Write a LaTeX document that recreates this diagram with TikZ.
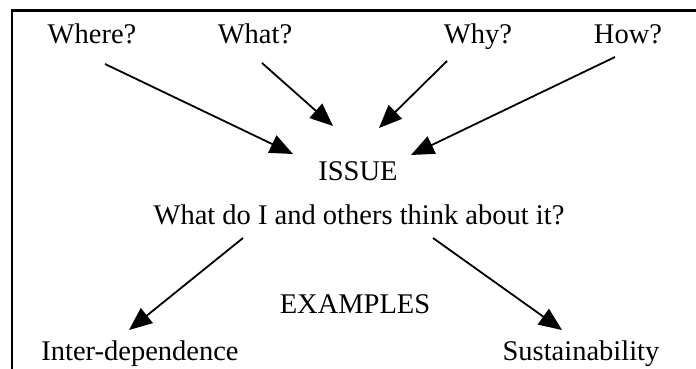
\documentclass[tikz,border=0pt]{standalone}
\usepackage{fontspec}
\setmainfont{Liberation Serif}
\usetikzlibrary{arrows.meta}
\begin{document}
\begin{tikzpicture}[x=1pt,y=-1pt,
  lbl/.style={anchor=base,inner sep=0pt,font=\fontsize{28.5}{34}\selectfont},
  arr/.style={line width=1.8pt,-{Triangle[length=23pt,width=19pt]}},
  frame/.style={line width=3pt}]
\useasboundingbox (0,0) rectangle (696,369);
% open frame: top edge and left edge
\draw[frame] (10.5,10.5) -- (696,10.5);
\draw[frame,line width=2.5pt] (12,10) -- (12,369);
% labels
\node[lbl] (where) at (92,44) {Where?};
\node[lbl] (what) at (255,44) {What?};
\node[lbl] (why) at (478,44) {Why?};
\node[lbl] (how) at (628,44) {How?};
\node[lbl] (issue) at (358,180) {ISSUE};
\node[lbl] (think) at (359,224) {What do I and others think about it?};
\node[lbl] (examples) at (355,313) {EXAMPLES};
\node[lbl] (inter) at (140,360) {Inter-dependence};
\node[lbl] (sust) at (581,360) {Sustainability};
% connector ends
\coordinate (whereT) at (105,64);
\coordinate (whatT) at (262,63);
\coordinate (whyT) at (447,61);
\coordinate (howT) at (615,57);
\coordinate (whereH) at (293,154);
\coordinate (whatH) at (333,126);
\coordinate (whyH) at (379,128);
\coordinate (howH) at (411,155);
\coordinate (leftT) at (243,238);
\coordinate (rightT) at (433,238);
\coordinate (interH) at (129,330);
\coordinate (sustH) at (562,330);
% arrows
\draw[arr] (whereT) -- (whereH);
\draw[arr] (whatT) -- (whatH);
\draw[arr] (whyT) -- (whyH);
\draw[arr] (howT) -- (howH);
\draw[arr] (leftT) -- (interH);
\draw[arr] (rightT) -- (sustH);
\end{tikzpicture}
\end{document}
